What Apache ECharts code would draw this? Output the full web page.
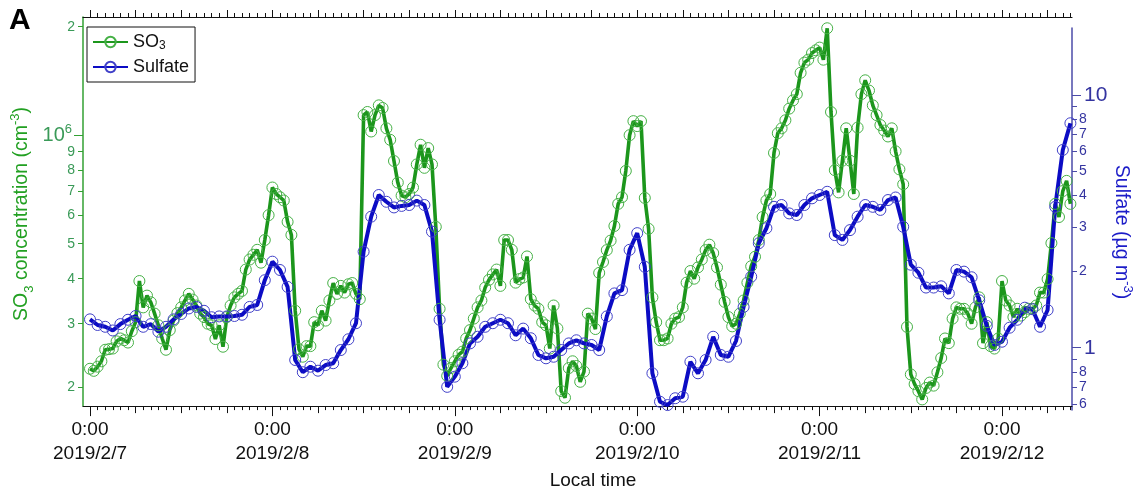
<!DOCTYPE html>
<html>
<head>
<meta charset="utf-8">
<script src="https://cdn.jsdelivr.net/npm/echarts@6/dist/echarts.min.js"></script>
<style>
  html, body { margin: 0; padding: 0; background: #fff; }
  #chart { width: 1140px; height: 495px; }
</style>
</head>
<body>
<div id="chart"></div>
<script>
// SO3 concentration (cm^-3), one value every 30 min from 2019/2/7 0:00
const so3 = [
  2.25e5, 2.22e5, 2.28e5, 2.36e5, 2.54e5, 2.55e5, 2.56e5, 2.68e5, 2.73e5, 2.70e5,
  2.66e5, 2.86e5, 3.03e5, 3.94e5, 3.33e5, 3.59e5, 3.44e5, 3.20e5, 2.97e5, 2.73e5,
  2.54e5, 2.88e5, 3.06e5, 3.21e5, 3.33e5, 3.48e5, 3.63e5, 3.50e5, 3.37e5, 3.20e5,
  3.13e5, 3.00e5, 2.97e5, 2.72e5, 2.97e5, 2.59e5, 3.13e5, 3.37e5, 3.55e5, 3.63e5,
  3.70e5, 4.24e5, 4.52e5, 4.66e5, 4.81e5, 4.43e5, 5.12e5, 6.00e5, 7.16e5, 6.87e5,
  6.73e5, 6.59e5, 5.75e5, 5.29e5, 3.26e5, 2.55e5, 2.43e5, 2.60e5, 2.60e5, 3.03e5,
  2.97e5, 3.26e5, 3.06e5, 3.48e5, 3.89e5, 3.63e5, 3.82e5, 3.66e5, 3.86e5, 3.89e5,
  3.63e5, 3.51e5, 1.137e6, 1.16e6, 1.024e6, 1.137e6, 1.21e6, 1.19e6, 1.045e6, 9.71e5,
  8.48e5, 7.39e5, 6.80e5, 6.73e5, 6.87e5, 7.16e5, 8.30e5, 9.41e5, 8.12e5, 9.21e5,
  8.30e5, 5.57e5, 3.30e5, 2.31e5, 2.15e5, 2.26e5, 2.36e5, 2.46e5, 2.51e5, 2.73e5,
  2.88e5, 3.10e5, 3.33e5, 3.48e5, 3.78e5, 3.97e5, 4.11e5, 4.24e5, 3.82e5, 5.12e5,
  5.12e5, 4.81e5, 3.90e5, 3.99e5, 4.03e5, 4.61e5, 3.51e5, 3.37e5, 3.30e5, 3.03e5,
  2.97e5, 2.56e5, 3.37e5, 2.91e5, 1.95e5, 1.87e5, 2.26e5, 2.36e5, 2.29e5, 2.07e5,
  2.21e5, 3.20e5, 3.10e5, 2.90e5, 4.15e5, 4.45e5, 4.80e5, 5.10e5, 5.60e5, 6.45e5,
  6.73e5, 7.96e5, 1.00e6, 1.094e6, 1.06e6, 1.094e6, 6.70e5, 5.50e5, 3.55e5, 3.03e5,
  2.70e5, 2.70e5, 2.73e5, 3.00e5, 3.10e5, 3.13e5, 3.33e5, 3.90e5, 4.20e5, 4.00e5,
  4.30e5, 4.52e5, 4.80e5, 4.97e5, 4.71e5, 4.30e5, 3.85e5, 3.45e5, 3.13e5, 2.95e5,
  3.00e5, 3.20e5, 3.48e5, 3.90e5, 4.33e5, 4.60e5, 5.12e5, 5.93e5, 6.59e5, 6.87e5,
  8.93e5, 1.013e6, 1.045e6, 1.10e6, 1.185e6, 1.249e6, 1.30e6, 1.49e6, 1.59e6, 1.62e6,
  1.69e6, 1.72e6, 1.75e6, 1.62e6, 1.98e6, 1.16e6, 8.0e5, 6.94e5, 8.5e5, 1.045e6,
  8.5e5, 6.87e5, 1.05e6, 1.30e6, 1.42e6, 1.33e6, 1.21e6, 1.137e6, 1.067e6, 1.03e6,
  9.92e5, 1.045e6, 9.02e5, 8.04e5, 7.31e5, 2.94e5, 2.17e5, 2.04e5, 1.95e5, 1.85e5,
  1.99e5, 2.06e5, 2.02e5, 2.20e5, 2.41e5, 2.73e5, 2.65e5, 3.10e5, 3.33e5, 3.30e5,
  3.30e5, 3.20e5, 3.00e5, 3.33e5, 3.55e5, 2.65e5, 3.03e5, 2.60e5, 2.56e5, 2.73e5,
  3.94e5, 3.48e5, 3.37e5, 3.13e5, 3.30e5, 3.16e5, 3.23e5, 3.30e5, 3.30e5, 3.37e5,
  3.66e5, 3.66e5, 3.99e5, 5.02e5, 6.45e5, 5.93e5, 7.00e5, 7.47e5, 6.45e5
];

// Sulfate (ug m^-3), hourly from 2019/2/7 0:00
const sulfate = [
  1.295, 1.23, 1.21, 1.17, 1.24, 1.29, 1.335, 1.21, 1.24, 1.157,
  1.21, 1.295, 1.36, 1.43, 1.45, 1.40, 1.32, 1.33, 1.33, 1.335,
  1.35, 1.45, 1.476, 1.85, 2.19, 2.03, 1.74, 0.894, 0.80, 0.841,
  0.811, 0.854, 0.868, 0.979, 1.08, 1.25, 2.40, 3.30, 4.02, 3.78,
  3.59, 3.64, 3.67, 3.82, 3.67, 2.88, 1.29, 0.70, 0.768, 0.868,
  1.04, 1.105, 1.21, 1.25, 1.29, 1.25, 1.12, 1.19, 1.09, 0.936,
  0.908, 0.921, 0.979, 1.04, 1.07, 1.04, 1.025, 0.979, 1.33, 1.64,
  1.69, 2.44, 2.84, 2.09, 0.792, 0.611, 0.593, 0.631, 0.64, 0.88,
  0.792, 0.894, 1.105, 0.936, 0.921, 1.063, 1.45, 1.91, 2.59, 2.97,
  3.61, 3.67, 3.40, 3.35, 3.67, 3.90, 4.02, 4.14, 2.79, 2.67,
  2.92, 3.30, 3.67, 3.61, 3.51, 3.84, 3.93, 3.01, 2.13, 1.98,
  1.73, 1.73, 1.75, 1.64, 2.03, 2.00, 1.90, 1.54, 1.22, 1.025,
  1.056, 1.20, 1.29, 1.44, 1.42, 1.21, 1.41, 3.61, 6.06, 7.73
];

// sampling steps, hours since 2019/2/7 0:00
const SO3_STEP_H = 0.5;
const SULFATE_STEP_H = 1;

// date tick labels, one per midnight
const dayLabels = ['2019/2/7', '2019/2/8', '2019/2/9', '2019/2/10', '2019/2/11', '2019/2/12'];

// log-axis tick values
const so3MinorTicks = [2e5, 3e5, 4e5, 5e5, 6e5, 7e5, 8e5, 9e5, 2e6];
const so3MajorTicks = [1e6];
const sulfateMinorTicks = [0.6, 0.7, 0.8, 0.9, 2, 3, 4, 5, 6, 7, 8, 9];
const sulfateMinorLabels = [0.6, 0.7, 0.8, 2, 3, 4, 5, 6, 7, 8];
const sulfateMajorTicks = [1, 10];

const FONT = 'Arial, "Liberation Sans", Helvetica, sans-serif';
const GREEN_LINE = '#1c961c';
const GREEN_MARK = '#45b045';
const GREEN_AXIS = '#33a033';
const GREEN_TEXT = '#3a9a58';
const BLUE_LINE = '#0c0cc4';
const BLUE_MARK = '#4040c8';
const BLUE_AXIS = '#4b4ba8';
const BLUE_TEXT = '#3434a0';

const X_MIN = -0.92, X_MAX = 129.21;       // hours
const SO3_MIN = 5.2486, SO3_MAX = 6.3279;  // log10(cm^-3)
const SUL_MIN = -0.2465, SUL_MAX = 1.2651; // log10(ug m^-3)

const lg = Math.log10;
const mantissa = v => String(Math.round(Math.pow(10, v - Math.floor(v + 1e-9))));

const dayHours = dayLabels.map((_, i) => i * 24);
const sixHours = [];
for (let h = 0; h <= 126; h += 6) sixHours.push(h);
const hours = [];
for (let h = 0; h <= 129; h++) hours.push(h);

function xAxisBase(extra) {
  return Object.assign({
    type: 'value', gridIndex: 0, min: X_MIN, max: X_MAX,
    splitLine: { show: false },
    axisLine: { show: false, onZero: false },
    axisLabel: { show: false },
    axisTick: { show: false }
  }, extra);
}

const option = {
  animation: false,
  textStyle: { fontFamily: FONT },
  grid: [
    { left: 83, right: 68, top: 17, bottom: 83 },
    { left: 83, right: 68, top: 28, bottom: 85 }
  ],
  legend: {
    orient: 'vertical', left: 87, top: 27,
    padding: [5, 6, 5, 5], itemGap: 5, itemWidth: 35, itemHeight: 13,
    borderColor: '#111', borderWidth: 1, selectedMode: false,
    data: ['SO3', 'Sulfate'],
    formatter: n => (n === 'SO3' ? 'SO{sub|3}' : n),
    textStyle: {
      fontFamily: FONT, fontSize: 18, color: '#111', lineHeight: 20,
      rich: { sub: { fontFamily: FONT, fontSize: 12, lineHeight: 10, verticalAlign: 'bottom', color: '#111' } }
    }
  },
  xAxis: [
    xAxisBase({
      position: 'bottom',
      axisLine: { show: true, onZero: false, lineStyle: { color: '#111', width: 1 } },
      axisTick: { show: true, customValues: hours, length: 4, lineStyle: { color: '#111' } },
      axisLabel: {
        show: true, customValues: dayHours, margin: 12,
        formatter: v => '0:00\n' + dayLabels[Math.round(v / 24)],
        fontFamily: FONT, fontSize: 19, lineHeight: 24, color: '#111'
      },
      name: 'Local time', nameLocation: 'middle', nameGap: 63,
      nameTextStyle: { fontFamily: FONT, fontSize: 19, color: '#111', padding: [0, 0, 0, 31] }
    }),
    xAxisBase({ position: 'bottom', axisTick: { show: true, customValues: sixHours, length: 7, lineStyle: { color: '#111' } } }),
    xAxisBase({ position: 'bottom', axisTick: { show: true, customValues: dayHours, length: 10, lineStyle: { color: '#111' } } }),
    xAxisBase({
      position: 'top',
      axisLine: { show: true, onZero: false, lineStyle: { color: '#111', width: 1.2 } },
      axisTick: { show: true, customValues: hours, length: 4, lineStyle: { color: '#111' } }
    }),
    xAxisBase({ position: 'top', axisTick: { show: true, customValues: sixHours, length: 7, lineStyle: { color: '#111' } } }),
    xAxisBase({ gridIndex: 1, show: false })
  ],
  yAxis: [
    {
      type: 'value', gridIndex: 0, position: 'left', min: SO3_MIN, max: SO3_MAX,
      splitLine: { show: false },
      axisLine: { show: true, onZero: false, lineStyle: { color: GREEN_AXIS, width: 1.5 } },
      axisTick: { show: true, customValues: so3MinorTicks.map(lg), length: 5, lineStyle: { color: GREEN_AXIS } },
      axisLabel: {
        customValues: so3MinorTicks.map(lg), formatter: mantissa, margin: 8,
        fontFamily: FONT, fontSize: 14, color: GREEN_TEXT
      }
    },
    {
      type: 'value', gridIndex: 0, position: 'left', min: SO3_MIN, max: SO3_MAX,
      splitLine: { show: false },
      axisLine: { show: false, onZero: false },
      axisTick: { show: true, customValues: so3MajorTicks.map(lg), length: 9, lineStyle: { color: GREEN_AXIS } },
      axisLabel: {
        customValues: so3MajorTicks.map(lg), margin: 11,
        formatter: v => '{b|10}{s|' + Math.round(v) + '}',
        color: GREEN_TEXT,
        rich: {
          b: { fontFamily: FONT, fontSize: 20, lineHeight: 24, color: GREEN_TEXT },
          s: { fontFamily: FONT, fontSize: 13, lineHeight: 13, verticalAlign: 'top', color: GREEN_TEXT }
        }
      }
    },
    {
      type: 'value', gridIndex: 1, position: 'right', min: SUL_MIN, max: SUL_MAX,
      splitLine: { show: false },
      axisLine: { show: true, onZero: false, lineStyle: { color: BLUE_AXIS, width: 1.5 } },
      axisTick: { show: true, customValues: sulfateMinorTicks.map(lg), length: 5, lineStyle: { color: BLUE_AXIS } },
      axisLabel: {
        customValues: sulfateMinorLabels.map(lg), formatter: mantissa, margin: 7,
        fontFamily: FONT, fontSize: 14, color: BLUE_TEXT
      }
    },
    {
      type: 'value', gridIndex: 1, position: 'right', min: SUL_MIN, max: SUL_MAX,
      splitLine: { show: false },
      axisLine: { show: false, onZero: false },
      axisTick: { show: true, customValues: sulfateMajorTicks.map(lg), length: 9, lineStyle: { color: BLUE_AXIS } },
      axisLabel: {
        customValues: sulfateMajorTicks.map(lg), margin: 12,
        formatter: v => String(Math.round(Math.pow(10, v))),
        fontFamily: FONT, fontSize: 21, color: BLUE_TEXT
      }
    }
  ],
  series: [
    {
      name: 'SO3', type: 'line', xAxisIndex: 0, yAxisIndex: 0,
      data: so3.map((v, i) => [i * SO3_STEP_H, lg(v)]),
      symbol: 'circle', symbolSize: 11, showAllSymbol: true,
      itemStyle: { color: 'rgba(255,255,255,0)', borderColor: GREEN_MARK, borderWidth: 1 },
      lineStyle: { color: GREEN_LINE, width: 3.6 },
      emphasis: { disabled: true }
    },
    {
      name: 'Sulfate', type: 'line', xAxisIndex: 5, yAxisIndex: 2,
      data: sulfate.map((v, i) => [i * SULFATE_STEP_H, lg(v)]),
      symbol: 'circle', symbolSize: 11, showAllSymbol: true,
      itemStyle: { color: 'rgba(255,255,255,0)', borderColor: BLUE_MARK, borderWidth: 1 },
      lineStyle: { color: BLUE_LINE, width: 4 },
      emphasis: { disabled: true }
    }
  ],
  graphic: [
    {
      type: 'text', x: 9, y: 6,
      style: { text: 'A', font: 'bold 30px ' + FONT, fill: '#000' }
    },
    {
      type: 'text', x: 22, y: 214, rotation: Math.PI / 2,
      style: {
        text: 'SO{sub|3} concentration (cm{sup|-3})',
        fontFamily: FONT, fontSize: 19.5, lineHeight: 27, fill: '#22a022',
        align: 'center', verticalAlign: 'middle',
        rich: {
          sub: { fontFamily: FONT, fontSize: 13, lineHeight: 14, verticalAlign: 'bottom', fill: '#22a022' },
          sup: { fontFamily: FONT, fontSize: 13, lineHeight: 14, verticalAlign: 'top', fill: '#22a022' }
        }
      }
    },
    {
      type: 'text', x: 1121, y: 232, rotation: -Math.PI / 2,
      style: {
        text: 'Sulfate (\u00b5g m{sup|-3})',
        fontFamily: FONT, fontSize: 19.5, lineHeight: 27, fill: '#1c1cc8',
        align: 'center', verticalAlign: 'middle',
        rich: {
          sup: { fontFamily: FONT, fontSize: 13, lineHeight: 14, verticalAlign: 'top', fill: '#1c1cc8' }
        }
      }
    }
  ]
};

const chart = echarts.init(document.getElementById('chart'), null, { renderer: 'canvas' });
chart.setOption(option);
</script>
</body>
</html>
